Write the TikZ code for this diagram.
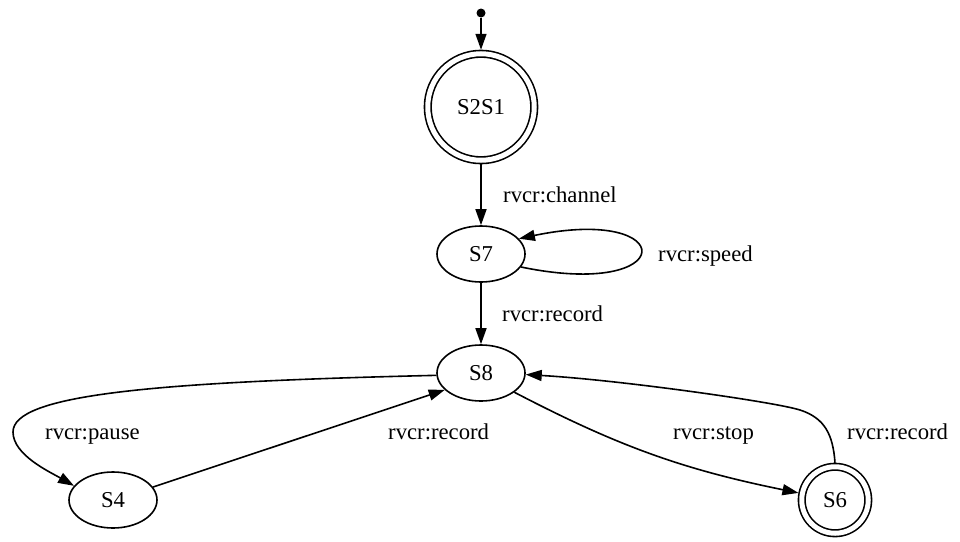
\documentclass[tikz,border=0pt]{standalone}
\usepackage{fontspec}
\setmainfont{Liberation Serif}
\usetikzlibrary{shapes.geometric,arrows.meta}
\begin{document}
\begin{tikzpicture}[x=1pt,y=-1pt,
  every node/.style={font=\fontsize{22.7}{27}\selectfont},
  st/.style={draw, ellipse, line width=1.6pt, minimum width=88pt, minimum height=56pt, inner sep=0pt, outer sep=0.8pt},
  acc/.style={draw, circle, line width=1.6pt, double, double distance=5pt, inner sep=0pt, outer sep=4pt},
  lbl/.style={anchor=base west, inner sep=0pt},
  tr/.style={line width=1.6pt, -{Triangle[length=16pt,width=11pt]}},
]
\useasboundingbox (0,0) rectangle (960,541);
\node[circle, fill, minimum size=9pt, inner sep=0pt] (init) at (481,13) {};
\node[acc, minimum size=106.5pt] (S2S1) at (481,107) {S2S1};
\node[st] (S7) at (481,254) {S7};
\node[st] (S8) at (481,373) {S8};
\node[st] (S4) at (113,500) {S4};
\node[acc, minimum size=66.5pt] (S6) at (835,500) {S6};

\draw[tr] (init) -- (S2S1);
\draw[tr] (S2S1) -- (S7);
\draw[tr] (S7.-18) .. controls (680,300) and (680,205) .. (S7.22);
\draw[tr] (S7) -- (S8);
\draw[tr] (S8.183) .. controls (150,382) and (13,395) .. (13,432) .. controls (13,455) and (50,472) .. (S4.160);
\draw[tr] (S4.18) -- (S8.205);
\draw[tr] (S8.-30) to[bend right=8] (S6.169);
\draw[tr] (S6.90) .. controls (833,435) and (825,418) .. (800,410) .. controls (775,402) and (620,380) .. (S8.-2);

\node[lbl] (l1) at (503,202) {rvcr:channel};
\node[lbl] (l2) at (658,261) {rvcr:speed};
\node[lbl] (l3) at (502,321) {rvcr:record};
\node[lbl] (l4) at (45,439) {rvcr:pause};
\node[lbl] (l5) at (388,439) {rvcr:record};
\node[lbl] (l6) at (673,439) {rvcr:stop};
\node[lbl] (l7) at (847,439) {rvcr:record};
\end{tikzpicture}
\end{document}
